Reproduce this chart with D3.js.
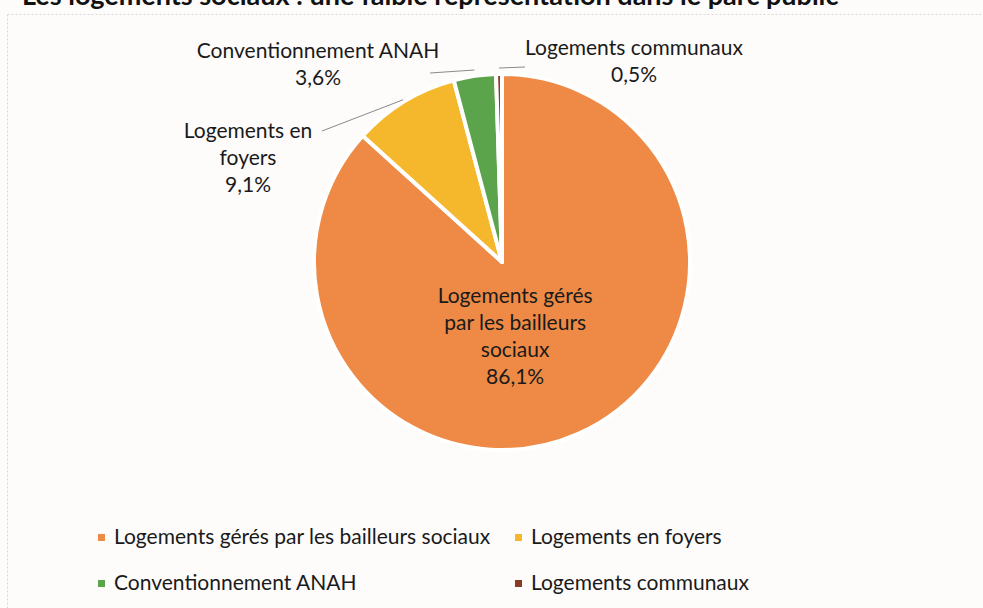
<!DOCTYPE html>
<html>
<head>
<meta charset="utf-8">
<script src="https://cdn.jsdelivr.net/npm/d3@7"></script>
<style>
  body { margin: 0; background: #fdfcfa; }
  svg { display: block; font-family: "Lato", "Open Sans", sans-serif; }
</style>
</head>
<body>
<div id="chart"></div>
<script>
const categories = [
  "Logements gérés par les bailleurs sociaux",
  "Logements en foyers",
  "Conventionnement ANAH",
  "Logements communaux"
];
const shares = [86.1, 9.1, 3.6, 0.5];
const sliceColors = ["#ee8a46", "#f5b82d", "#5ca44c", "#8a3b24"];
const labelLines = [
  ["Logements gérés", "par les bailleurs", "sociaux"],
  ["Logements en", "foyers"],
  ["Conventionnement ANAH"],
  ["Logements communaux"]
];

const w = 983, h = 608;
const cx = 502, cy = 262, r = 188;
const fs = 21;

const svg = d3.select("#chart").append("svg")
    .attr("width", w)
    .attr("height", h);

svg.append("rect")
    .attr("width", w).attr("height", h)
    .attr("fill", "#fdfcfa");

// title, cut off by the scan at the top
svg.append("text")
    .attr("x", 22)
    .attr("y", 5)
    .attr("font-size", 27)
    .attr("font-weight", "bold")
    .attr("fill", "#111")
    .text("Les logements sociaux : une faible représentation dans le parc public");

// chart frame
svg.append("rect")
    .attr("x", 7.5).attr("y", 14.5)
    .attr("width", w).attr("height", h)
    .attr("fill", "none")
    .attr("stroke", "#d8d8d8")
    .attr("stroke-dasharray", "2 2");

const data = categories.map((c, i) => ({ cat: c, value: shares[i], i }));

const pie = d3.pie()
    .sort(null)
    .value(d => d.value);

const arc = d3.arc().innerRadius(0).outerRadius(r);

const g = svg.append("g").attr("transform", `translate(${cx},${cy})`);

const arcs = pie(data);

g.selectAll("path.slice")
    .data(arcs)
    .enter()
    .append("path")
    .attr("class", "slice")
    .attr("d", arc)
    .attr("fill", d => sliceColors[d.data.i])
    .attr("stroke", "#fff")
    .attr("stroke-width", 4)
    .attr("stroke-linejoin", "round");

const fmt = v => d3.format(".1f")(v).replace(".", ",") + "%";

// outside labels: text anchor (relative to center) and leader end
const outside = {
  1: { lx: -254, ly: -124, ex: -180, ey: -131 },
  2: { lx: -184, ly: -204, ex: -72, ey: -189 },
  3: { lx: 132, ly: -207, ex: 23, ey: -195 }
};

const lh = 27;

arcs.forEach(d => {
  const i = d.data.i;
  const lines = labelLines[i].concat([fmt(d.data.value)]);
  if (i === 0) {
    const c = arc.centroid(d);
    const t = g.append("text")
        .attr("text-anchor", "middle")
        .attr("font-size", fs)
        .attr("fill", "#1a1a1a");
    lines.forEach((s, k) => {
      t.append("tspan")
          .attr("x", c[0] - 25)
          .attr("y", c[1] - 45 + k * lh)
          .text(s);
    });
    return;
  }
  const o = outside[i];
  const mid = (d.startAngle + d.endAngle) / 2;
  const px = Math.sin(mid) * (r + 2), py = -Math.cos(mid) * (r + 2);
  const pts = i === 1
      ? [[px, py], [o.ex, o.ey]]
      : [[px, py - 4], [o.ex, o.ey]];
  g.append("path")
      .attr("d", d3.line()(pts))
      .attr("fill", "none")
      .attr("stroke", "#8a8a8a")
      .attr("stroke-width", 1);
  const t = g.append("text")
      .attr("text-anchor", "middle")
      .attr("font-size", fs)
      .attr("fill", "#1a1a1a");
  lines.forEach((s, k) => {
    t.append("tspan")
        .attr("x", o.lx)
        .attr("y", o.ly + k * lh)
        .text(s);
  });
});

// legend
const legendPos = [[101, 537], [518, 537], [101, 583], [518, 583]];
const lg = svg.append("g");
categories.forEach((c, i) => {
  const [x, y] = legendPos[i];
  lg.append("rect")
      .attr("x", x - 3).attr("y", y - 3)
      .attr("width", 7).attr("height", 7)
      .attr("fill", sliceColors[i]);
  lg.append("text")
      .attr("x", x + 13)
      .attr("y", y + 7)
      .attr("font-size", fs)
      .attr("fill", "#1a1a1a")
      .text(c);
});
</script>
</body>
</html>
